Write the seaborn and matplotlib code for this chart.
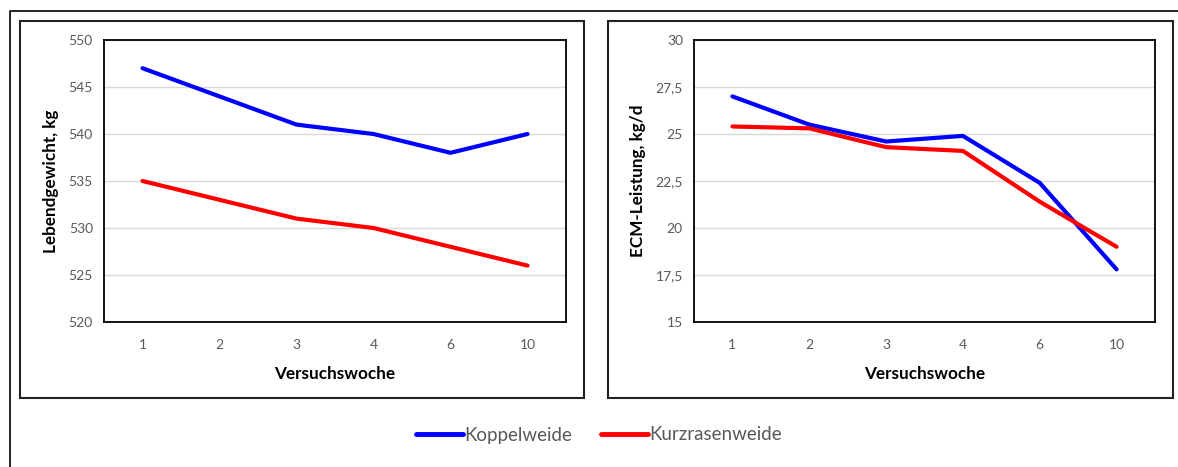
import pandas as pd
import matplotlib.pyplot as plt
import seaborn as sns
from matplotlib.patches import Rectangle
from matplotlib.lines import Line2D

# Daten
weeks = ["1", "2", "3", "4", "6", "10"]
groups = ["Koppelweide", "Kurzrasenweide"]
weight_koppel = [547, 544, 541, 540, 538, 540]
weight_kurz = [535, 533, 531, 530, 528, 526]
ecm_koppel = [27.0, 25.5, 24.6, 24.9, 22.4, 17.8]
ecm_kurz = [25.4, 25.3, 24.3, 24.1, 21.4, 19.0]

colors = {"Koppelweide": "#0000FF", "Kurzrasenweide": "#FF0000"}


def long_df(a, b):
    rows = []
    for g, vals in zip(groups, [a, b]):
        for i, v in enumerate(vals):
            rows.append({"pos": i, "Woche": weeks[i], "Gruppe": g, "wert": v})
    return pd.DataFrame(rows)


sns.set_theme(style="white")
plt.rcParams["font.family"] = ["Lato", "DejaVu Sans"]

W, H = 1178, 467
fig = plt.figure(figsize=(W / 100, H / 100), dpi=100)


def px_rect(x0, y0, x1, y1):
    return [x0 / W, 1 - y1 / H, (x1 - x0) / W, (y1 - y0) / H]


# Rahmen
outer = Line2D([10 / W, 10 / W, 1.0], [0.0, 1 - 11 / H, 1 - 11 / H],
               transform=fig.transFigure, color="black", lw=1.2)
fig.add_artist(outer)
for x0, x1 in [(20, 584), (608, 1173)]:
    r = px_rect(x0, 21, x1, 398)
    fig.add_artist(Rectangle((r[0], r[1]), r[2], r[3], transform=fig.transFigure,
                             fill=False, edgecolor="#222222", lw=1.5))

ax1 = fig.add_axes(px_rect(104, 40, 566, 322))
ax2 = fig.add_axes(px_rect(694, 40, 1155, 322))

panels = [
    (ax1, long_df(weight_koppel, weight_kurz), "Lebendgewicht, kg", (520, 550), [520, 525, 530, 535, 540, 545, 550], None),
    (ax2, long_df(ecm_koppel, ecm_kurz), "ECM-Leistung, kg/d", (15, 30), [15, 17.5, 20, 22.5, 25, 27.5, 30], "ecm"),
]

for ax, df, ylabel, ylim, yticks, kind in panels:
    sns.lineplot(data=df, x="pos", y="wert", hue="Gruppe", palette=colors,
                 linewidth=3, ax=ax, legend=False, sort=False)
    ax.set_xlim(-0.5, len(weeks) - 0.5)
    ax.set_ylim(*ylim)
    ax.set_yticks(yticks)
    if kind == "ecm":
        ax.set_yticklabels([("%g" % t).replace(".", ",") for t in yticks])
    else:
        ax.set_yticklabels([str(t) for t in yticks])
    ax.set_xticks(range(len(weeks)))
    ax.set_xticklabels(weeks)
    ax.grid(axis="y", color="#D9D9D9", lw=1)
    ax.set_axisbelow(True)
    for s in ax.spines.values():
        s.set_visible(True)
        s.set_color("black")
        s.set_linewidth(1.3)
    ax.tick_params(axis="both", length=0, labelsize=10, colors="#595959", pad=8)
    ax.tick_params(axis="x", pad=12)
    ax.set_xlabel("Versuchswoche", fontsize=12.3, fontweight="bold", color="black", labelpad=11)
    ax.set_ylabel(ylabel, fontsize=12.3, fontweight="bold", color="black", labelpad=7)

handles = [Line2D([0], [0], color=colors[g], lw=3.5) for g in groups]
fig.legend(handles, groups, loc="center", bbox_to_anchor=(0.5085, 1 - 435 / H),
           ncol=2, frameon=False, fontsize=13.5, handlelength=2.5,
           handletextpad=0.1, columnspacing=1.5, labelcolor="#595959")

fig.savefig("out.png", dpi=100, facecolor="white")
